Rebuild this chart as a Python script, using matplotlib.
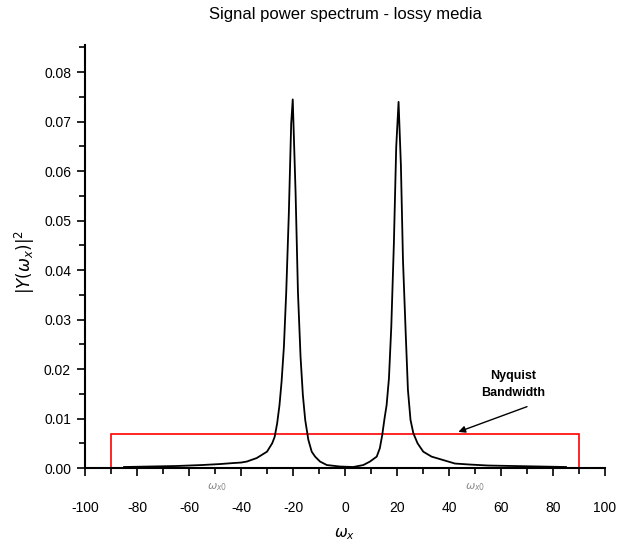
import matplotlib
matplotlib.use("Agg")
import matplotlib.pyplot as plt
from matplotlib.patches import Rectangle
from matplotlib.ticker import MultipleLocator, FormatStrFormatter

plt.rcParams.update({'font.family': 'Liberation Sans', 'font.size': 10,
                     'axes.unicode_minus': False})

# Spectrum (omega_x, |Y|^2)
omega = [-85, -75, -65, -55, -48, -43, -40, -37.8, -34, -30, -28, -27.05, -26.1,
         -25.2, -24.4, -23.5, -22.6, -21.6, -20.7, -20.1, -19.0, -18.1, -17.1,
         -16.2, -15.3, -14.1, -12.8, -11.5, -9.6, -7.0, -2.0, 3.2, 7.05, 9.6,
         12.2, 13.4, 14.3, 15.2, 16.0, 16.9, 17.8, 18.8, 19.7, 20.6, 21.5, 22.3,
         23.3, 24.2, 25.2, 26.3, 27.9, 30.1, 33.3, 37.8, 42.3, 48, 55, 65, 75, 85]
power = [0.0002, 0.0003, 0.0004, 0.0006, 0.0008, 0.0010, 0.0011, 0.0013, 0.0020,
         0.0033, 0.0050, 0.0063, 0.0090, 0.0127, 0.0174, 0.0245, 0.0356, 0.0515,
         0.0696, 0.0745, 0.0555, 0.0356, 0.0225, 0.0147, 0.0097, 0.0057, 0.0033,
         0.0023, 0.0013, 0.0006, 0.0003, 0.0002, 0.0006, 0.0013, 0.0023, 0.0040,
         0.0066, 0.0100, 0.0127, 0.0181, 0.0285, 0.0454, 0.0649, 0.0740, 0.0612,
         0.0420, 0.0279, 0.0158, 0.0097, 0.0070, 0.0050, 0.0033, 0.0023, 0.0016,
         0.0009, 0.0007, 0.0005, 0.0004, 0.0003, 0.0002]

# Nyquist band drawn as a box
nyquist_lo = -90
nyquist_hi = 90
nyquist_level = 0.0068

# omega_x0 markers under the axis
wx0_positions = [-49, 50]

fig = plt.figure(figsize=(6.17, 5.52), dpi=100)
ax = fig.add_axes([85 / 617, 84 / 552, 520 / 617, 423 / 552])

ax.plot(omega, power, color='black', lw=1.3)
ax.add_patch(Rectangle((nyquist_lo, 0), nyquist_hi - nyquist_lo, nyquist_level,
                       fill=False, edgecolor='red', lw=1.2))

# label and arrow pointing at the box
ax.text(64.5, 0.0169, 'Nyquist\nBandwidth', ha='center', va='center',
        fontsize=9, fontweight='bold', linespacing=1.5)
ax.annotate('', xy=(43.6, 0.0073), xytext=(70, 0.0124),
            arrowprops=dict(arrowstyle='-|>', color='black', lw=1,
                            shrinkA=0, shrinkB=0, mutation_scale=10))

for xp in wx0_positions:
    ax.text(xp, -0.0038, r'$\omega_{x0}$', color='#8a8a8a', fontsize=8,
            ha='center', va='center', clip_on=False)

ax.set_xlim(-100, 100)
ax.set_ylim(0, 0.0855)
ax.xaxis.set_major_locator(MultipleLocator(20))
ax.xaxis.set_minor_locator(MultipleLocator(10))
ax.yaxis.set_major_locator(MultipleLocator(0.01))
ax.yaxis.set_minor_locator(MultipleLocator(0.005))
ax.yaxis.set_major_formatter(FormatStrFormatter('%.2f'))
ax.tick_params(which='major', direction='out', length=6, width=1.2, labelsize=10, pad=18)
ax.tick_params(axis='y', which='major', pad=4)
ax.tick_params(which='minor', direction='out', length=4, width=1.2)

for side in ['top', 'right']:
    ax.spines[side].set_visible(False)
for side in ['left', 'bottom']:
    ax.spines[side].set_linewidth(1.5)

ax.set_xlabel(r'$\omega_x$', fontsize=11, labelpad=8)
fig.text(25 / 617, 1 - 262 / 552, r'$|Y(\omega_x)|^2$', rotation=90,
         ha='center', va='center', fontsize=12)

fig.text(345 / 617, 1 - 15 / 552, 'Signal power spectrum - lossy media',
         ha='center', va='center', fontsize=12)

fig.savefig('out.png', dpi=100)
